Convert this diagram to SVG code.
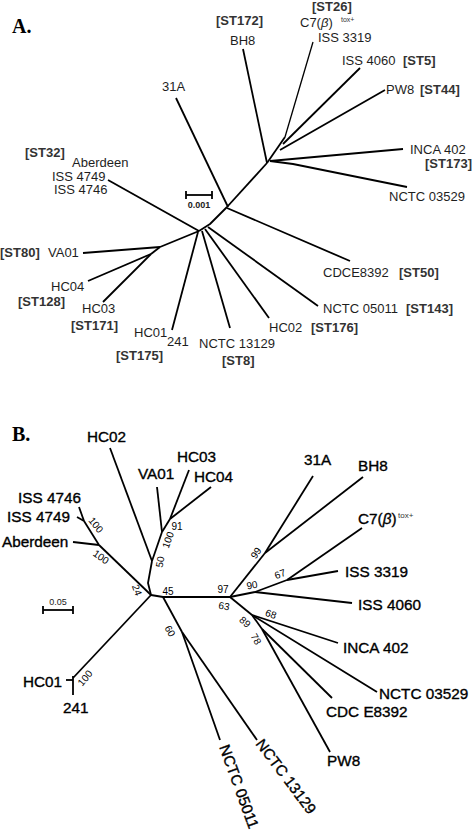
<svg xmlns="http://www.w3.org/2000/svg" width="473" height="831" viewBox="0 0 473 831">
<style>
  .br { fill: none; stroke: #000; stroke-width: 1.8; stroke-linecap: butt; stroke-linejoin: round; }
  .a { font-family: "Liberation Sans", Arial, sans-serif; font-size: 13px; fill: #1e1e1e; }
  .st { font-family: "Liberation Sans", Arial, sans-serif; font-size: 13px; font-weight: bold; fill: #333; }
  .b { font-family: "Liberation Sans", Arial, sans-serif; font-size: 15.3px; fill: #000; stroke: #000; stroke-width: 0.35; }
  .bs { font-family: "Liberation Sans", Arial, sans-serif; font-size: 10px; fill: #000; text-anchor: middle; dominant-baseline: central; }
  .sup { font-family: "Liberation Sans", Arial, sans-serif; font-size: 7px; fill: #333; }
  .panel { font-family: "Liberation Serif", "Times New Roman", serif; font-size: 20px; font-weight: bold; fill: #000; }
  .scale { font-family: "Liberation Sans", Arial, sans-serif; font-size: 9px; font-weight: bold; fill: #222; text-anchor: middle; }
</style>
<rect width="473" height="831" fill="#fff"/>

<text class="panel" x="12" y="33">A.</text>
<text class="panel" x="12" y="441">B.</text>

<g id="connectors">
  <!-- Panel A -->
  <polyline class="br" points="227,207 210,224 199,231"/>
  <line class="br" x1="199" y1="231" x2="108" y2="180"/>
  <line class="br" x1="199" y1="231" x2="160" y2="247"/>
  <line class="br" x1="160" y1="247" x2="83" y2="253"/>
  <line class="br" x1="160" y1="247" x2="151" y2="254"/>
  <line class="br" x1="151" y1="254" x2="88" y2="281"/>
  <line class="br" x1="151" y1="254" x2="103" y2="302"/>
  <line class="br" x1="198" y1="232" x2="172" y2="330"/>
  <line class="br" x1="202" y1="231" x2="230" y2="328"/>
  <line class="br" x1="205" y1="229" x2="269" y2="318"/>
  <line class="br" x1="208" y1="227" x2="318" y2="306"/>
  <line class="br" x1="228" y1="207" x2="176" y2="98"/>
  <line class="br" x1="227" y1="208" x2="350" y2="261"/>
  <line class="br" x1="227" y1="207" x2="267" y2="163"/>
  <line class="br" x1="267" y1="163" x2="243" y2="49"/>
  <line class="br" x1="267" y1="163" x2="285" y2="137"/>
  <line class="br" x1="270" y1="161" x2="403" y2="149"/>
  <polyline class="br" points="270,161 293,164 407,187"/>
  <line class="br" x1="280" y1="150" x2="385" y2="90"/>
  <line class="br" x1="283" y1="144" x2="360" y2="68"/>
  <line class="br" x1="285" y1="137" x2="313" y2="42" style="stroke-width:1.3"/>
  <!-- scale A -->
  <line class="br" x1="186" y1="195" x2="212" y2="195"/>
  <line class="br" x1="186" y1="191" x2="186" y2="199"/>
  <line class="br" x1="212" y1="191" x2="212" y2="199"/>

  <!-- Panel B -->
  <line class="br" x1="151" y1="595" x2="99" y2="545"/>
  <line class="br" x1="99" y1="545" x2="73" y2="542"/>
  <line class="br" x1="99" y1="545" x2="84" y2="521"/>
  <line class="br" x1="84" y1="521" x2="79" y2="507"/>
  <line class="br" x1="84" y1="521" x2="77" y2="517"/>
  <polyline class="br" points="151,595 148,583 152,561"/>
  <line class="br" x1="152" y1="561" x2="110" y2="448"/>
  <line class="br" x1="152" y1="561" x2="162" y2="532"/>
  <line class="br" x1="162" y1="532" x2="157" y2="487"/>
  <line class="br" x1="162" y1="532" x2="170" y2="519"/>
  <line class="br" x1="170" y1="519" x2="189" y2="470"/>
  <line class="br" x1="170" y1="519" x2="211" y2="487"/>
  <polyline class="br" points="151,595 163,597 230,597"/>
  <line class="br" x1="163" y1="597" x2="182" y2="632"/>
  <line class="br" x1="182" y1="632" x2="220" y2="740"/>
  <line class="br" x1="182" y1="632" x2="257" y2="740"/>
  <line class="br" x1="151" y1="595" x2="73" y2="678"/>
  <line class="br" x1="73" y1="676" x2="73" y2="695"/>
  <line class="br" x1="73" y1="680" x2="66" y2="680"/>
  <line class="br" x1="230" y1="597" x2="265" y2="553"/>
  <line class="br" x1="265" y1="553" x2="313" y2="476"/>
  <line class="br" x1="265" y1="553" x2="363" y2="477"/>
  <line class="br" x1="230" y1="597" x2="255" y2="592"/>
  <line class="br" x1="255" y1="592" x2="352" y2="603"/>
  <line class="br" x1="255" y1="592" x2="287" y2="580"/>
  <line class="br" x1="287" y1="580" x2="362" y2="528"/>
  <line class="br" x1="287" y1="580" x2="338" y2="571"/>
  <line class="br" x1="230" y1="597" x2="252" y2="615"/>
  <line class="br" x1="252" y1="615" x2="338" y2="643"/>
  <line class="br" x1="252" y1="615" x2="377" y2="692"/>
  <line class="br" x1="252" y1="615" x2="262" y2="629"/>
  <line class="br" x1="262" y1="629" x2="332" y2="698"/>
  <line class="br" x1="262" y1="629" x2="330" y2="752"/>
  <!-- scale B -->
  <line class="br" x1="43" y1="610" x2="73" y2="610"/>
  <line class="br" x1="43" y1="606" x2="43" y2="614"/>
  <line class="br" x1="73" y1="606" x2="73" y2="614"/>
</g>

<g id="scale-a"><text class="scale" x="199" y="208">0.001</text></g>
<g id="scale-b"><text class="scale" x="58" y="605" style="font-weight:normal">0.05</text></g>

<!-- Panel A nodes -->
<g id="a-bh8"><text class="st" x="216" y="25">[ST172]</text><text class="a" x="230" y="45">BH8</text></g>
<g id="a-c7"><text class="st" x="312" y="11">[ST26]</text><text class="a" x="300" y="27">C7(<tspan font-style="italic">β</tspan>)</text><text class="sup" x="341" y="22">tox+</text></g>
<g id="a-iss3319"><text class="a" x="318" y="42">ISS 3319</text></g>
<g id="a-iss4060"><text class="a" x="342" y="65">ISS 4060</text><text class="st" x="403" y="65">[ST5]</text></g>
<g id="a-pw8"><text class="a" x="386" y="94">PW8</text><text class="st" x="420" y="94">[ST44]</text></g>
<g id="a-inca402"><text class="a" x="410" y="154">INCA 402</text><text class="st" x="425" y="168">[ST173]</text></g>
<g id="a-nctc03529"><text class="a" x="389" y="201">NCTC 03529</text></g>
<g id="a-cdce8392"><text class="a" x="323" y="277">CDCE8392</text><text class="st" x="399" y="277">[ST50]</text></g>
<g id="a-nctc05011"><text class="a" x="323" y="313">NCTC 05011</text><text class="st" x="406" y="313">[ST143]</text></g>
<g id="a-hc02"><text class="a" x="269" y="332">HC02</text><text class="st" x="311" y="332">[ST176]</text></g>
<g id="a-nctc13129"><text class="a" x="199" y="348">NCTC 13129</text><text class="st" x="222" y="365">[ST8]</text></g>
<g id="a-hc01"><text class="a" x="134" y="337">HC01</text><text class="a" x="167" y="346">241</text><text class="st" x="116" y="360">[ST175]</text></g>
<g id="a-hc03"><text class="a" x="82" y="313">HC03</text><text class="st" x="71" y="330">[ST171]</text></g>
<g id="a-hc04"><text class="a" x="51" y="291">HC04</text><text class="st" x="18" y="306">[ST128]</text></g>
<g id="a-va01"><text class="st" x="0" y="257">[ST80]</text><text class="a" x="48" y="257">VA01</text></g>
<g id="a-aberdeen"><text class="st" x="25" y="157">[ST32]</text><text class="a" x="72" y="167">Aberdeen</text><text class="a" x="52" y="180.5">ISS 4749</text><text class="a" x="54" y="194">ISS 4746</text></g>
<g id="a-31a"><text class="a" x="162" y="91">31A</text></g>

<!-- Panel B nodes -->
<g id="b-hc02"><text class="b" x="87" y="442">HC02</text></g>
<g id="b-hc03"><text class="b" x="177" y="462">HC03</text></g>
<g id="b-va01"><text class="b" x="138" y="479">VA01</text></g>
<g id="b-hc04"><text class="b" x="194" y="482">HC04</text></g>
<g id="b-iss4746"><text class="b" x="18" y="503">ISS 4746</text></g>
<g id="b-iss4749"><text class="b" x="7" y="522">ISS 4749</text></g>
<g id="b-aberdeen"><text class="b" x="2" y="547">Aberdeen</text></g>
<g id="b-31a"><text class="b" x="304" y="465">31A</text></g>
<g id="b-bh8"><text class="b" x="358" y="471">BH8</text></g>
<g id="b-c7"><text class="b" x="358" y="524">C7(<tspan font-style="italic">β</tspan>)</text><text class="sup" x="398" y="518" style="font-size:8px">tox+</text></g>
<g id="b-iss3319"><text class="b" x="345" y="577">ISS 3319</text></g>
<g id="b-iss4060"><text class="b" x="358" y="610">ISS 4060</text></g>
<g id="b-inca402"><text class="b" x="343" y="653">INCA 402</text></g>
<g id="b-nctc03529"><text class="b" x="379" y="699">NCTC 03529</text></g>
<g id="b-cdce8392"><text class="b" x="326" y="717">CDC E8392</text></g>
<g id="b-pw8"><text class="b" x="327" y="766">PW8</text></g>
<g id="b-hc01"><text class="b" x="23" y="687">HC01</text><text class="b" x="63" y="713">241</text></g>
<g id="b-nctc05011"><text class="b" transform="translate(219,747) rotate(70)">NCTC 05011</text></g>
<g id="b-nctc13129"><text class="b" transform="translate(255,744) rotate(53)">NCTC 13129</text></g>

<g id="b-support">
  <text class="bs" transform="translate(96,525) rotate(50)">100</text>
  <text class="bs" transform="translate(101,557) rotate(35)">100</text>
  <text class="bs" transform="translate(137,590) rotate(70)">24</text>
  <text class="bs" transform="translate(160,562) rotate(-80)">50</text>
  <text class="bs" transform="translate(168,540) rotate(-70)">100</text>
  <text class="bs" transform="translate(177,526)">91</text>
  <text class="bs" transform="translate(168,591)">45</text>
  <text class="bs" transform="translate(223,589)">97</text>
  <text class="bs" transform="translate(224,606) rotate(10)">63</text>
  <text class="bs" transform="translate(256,553) rotate(-55)">99</text>
  <text class="bs" transform="translate(280,574) rotate(-20)">67</text>
  <text class="bs" transform="translate(252,585) rotate(-10)">90</text>
  <text class="bs" transform="translate(271,614) rotate(20)">68</text>
  <text class="bs" transform="translate(245,622) rotate(40)">89</text>
  <text class="bs" transform="translate(256,639) rotate(60)">78</text>
  <text class="bs" transform="translate(85,678) rotate(-50)">100</text>
  <text class="bs" transform="translate(170,631) rotate(60)">60</text>
</g>
</svg>
